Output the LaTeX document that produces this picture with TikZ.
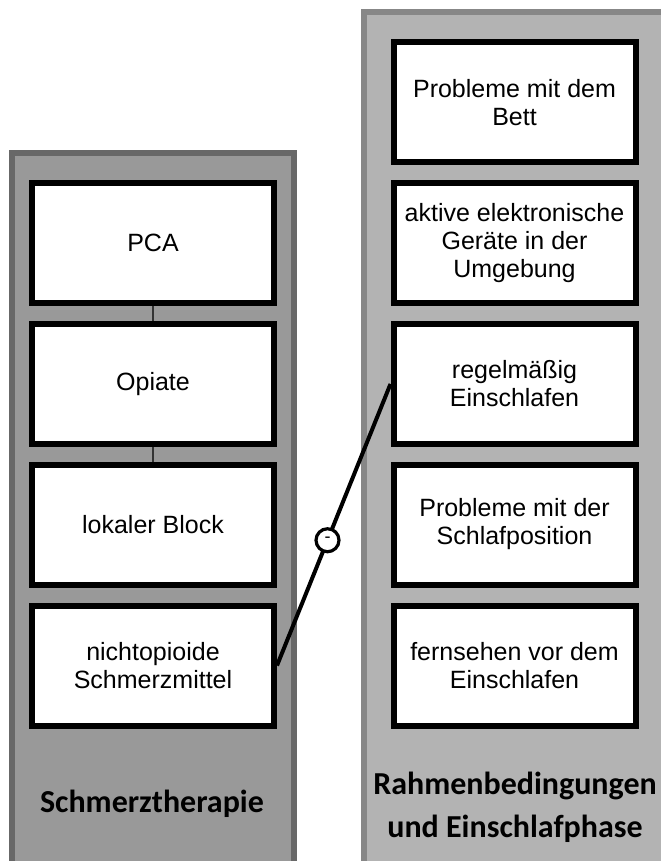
\documentclass[tikz,border=0pt]{standalone}
\usepackage{fontspec}
\setmainfont{Liberation Sans}
\newfontfamily\titlefont{Carlito}
\definecolor{leftfill}{HTML}{999999}
\definecolor{leftline}{HTML}{686868}
\definecolor{rightfill}{HTML}{B3B3B3}
\definecolor{rightline}{HTML}{878787}
\begin{document}
\begin{tikzpicture}[x=0.5pt,y=-0.5pt,
  box/.style={rectangle,draw=black,fill=white,line width=3pt,minimum width=121pt,
    minimum height=60pt,inner sep=0pt,align=center,font=\fontsize{12.5}{14}\selectfont},
  title/.style={align=center,font=\titlefont\bfseries\fontsize{16}{21.5}\selectfont}]
  \useasboundingbox (0,0) rectangle (660,861);

  % the two columns
  \draw[line width=3pt,draw=leftline,fill=leftfill] (12,153) rectangle (294,880);
  \draw[line width=3pt,draw=rightline,fill=rightfill] (364,12) rectangle (690,880);

  \node[box](pca) at (153,243) {PCA};
  \node[box](opi) at (153,384) {Opiate};
  \node[box](lok) at (153,524.5) {lokaler Block};
  \node[box](nop) at (153,665.5) {nichtopioide\\Schmerzmittel};

  \node[box](bett) at (514.5,102.5) {Probleme mit dem\\Bett};
  \node[box](akt) at (514.5,243) {aktive elektronische\\Geräte in der\\Umgebung};
  \node[box](reg) at (514.5,384) {regelmäßig\\Einschlafen};
  \node[box](pos) at (514.5,524.5) {Probleme mit der\\Schlafposition};
  \node[box](fern) at (514.5,665.5) {fernsehen vor dem\\Einschlafen};

  \node[title](schmerz) at (152,804) {Schmerztherapie};
  \node[title](rahmen) at (515,807) {Rahmenbedingungen\\und Einschlafphase};

  \draw[line width=0.75pt,draw=black!80] (pca) -- (opi);
  \draw[line width=0.75pt,draw=black!80] (opi) -- (lok);
  \draw[line width=2pt] (nop.east) -- (reg.west)
    node[pos=.445,circle,draw,fill=white,line width=1.6pt,minimum size=11.5pt,
      inner sep=0pt,font=\fontsize{9}{9}\selectfont](neg){\raisebox{-0.8pt}{-}};
\end{tikzpicture}
\end{document}
